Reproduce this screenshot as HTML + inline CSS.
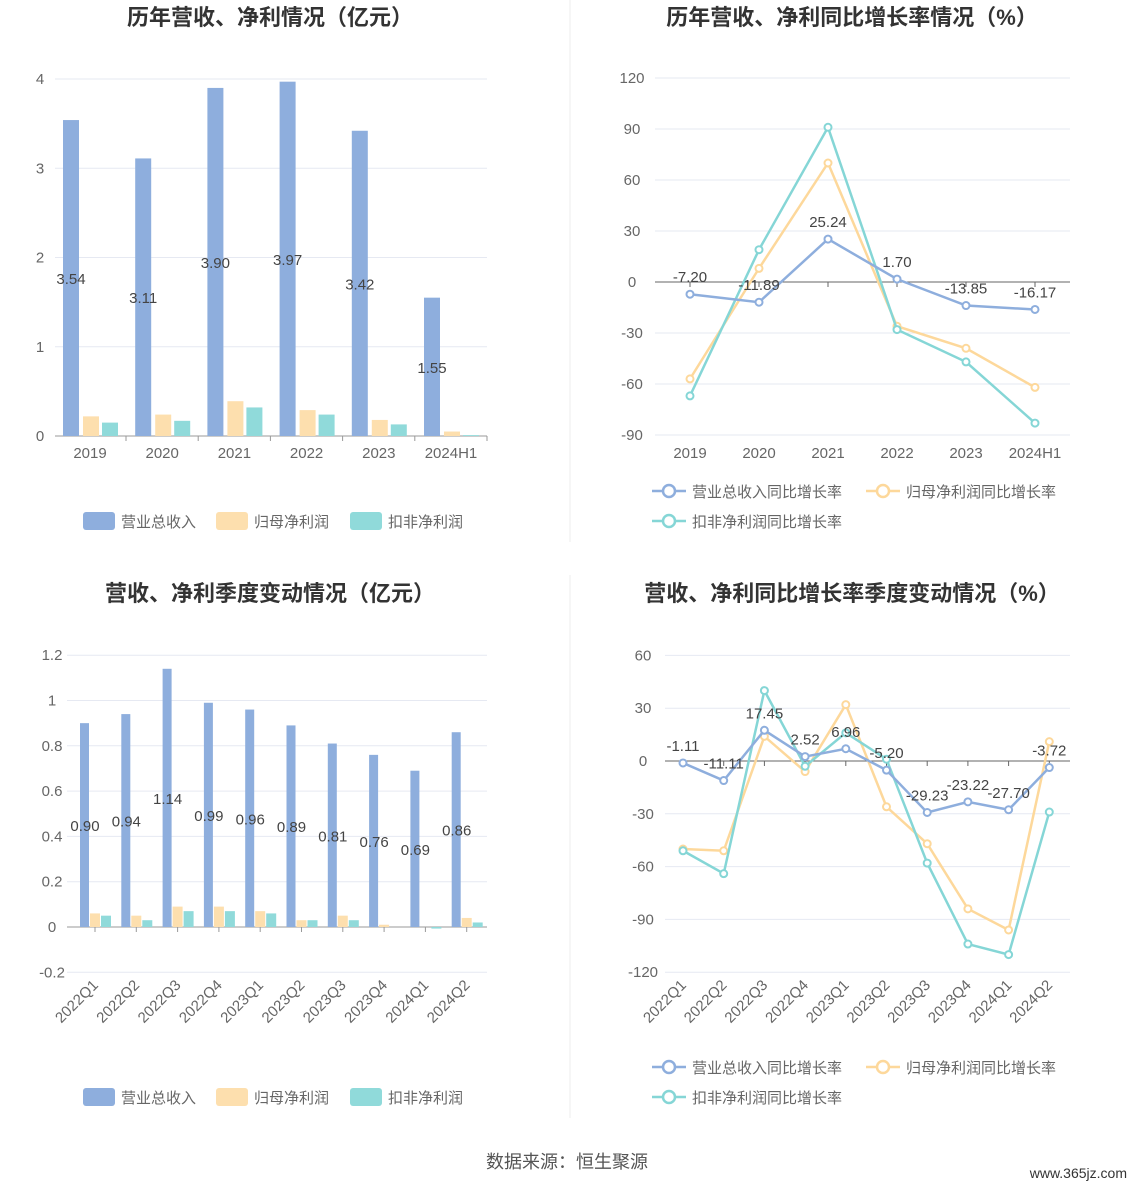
<!DOCTYPE html>
<html><head><meta charset="utf-8"><style>
body{margin:0;background:#fff;}
svg{display:block;font-family:"Liberation Sans","Noto Sans CJK SC",sans-serif;}
</style></head><body>
<svg id="s" width="1134" height="1188" xmlns="http://www.w3.org/2000/svg"></svg>
<script>
const S=document.getElementById('s');let h='';
const B='#8eaedd',O='#fddfae',T='#90dada';
const BL='#8eaedd',OL='#fdd89b',TL='#85d6d6';
function t(x,y,s,o={}){h+=`<text x="${x}" y="${y}" font-size="${o.fs||15}" fill="${o.c||'#666'}" text-anchor="${o.a||'middle'}" ${o.w?'font-weight="bold"':''} ${o.tr?`transform="${o.tr}"`:''}>${s}</text>`;}
function l(x1,y1,x2,y2,c,w=1){h+=`<line x1="${x1}" y1="${y1}" x2="${x2}" y2="${y2}" stroke="${c}" stroke-width="${w}"/>`;}
function r(x,y,w,hh,c){if(hh<0){y+=hh;hh=-hh;}h+=`<rect x="${x}" y="${y}" width="${w}" height="${hh}" fill="${c}"/>`;}
l(570,0,570,542,'#eee');l(570,575,570,1118,'#eee');
t(270,25,'历年营收、净利情况（亿元）',{fs:22,w:1,c:'#333'});
t(852,25,'历年营收、净利同比增长率情况（%）',{fs:22,w:1,c:'#333'});
t(270,601,'营收、净利季度变动情况（亿元）',{fs:22,w:1,c:'#333'});
t(852,601,'营收、净利同比增长率季度变动情况（%）',{fs:22,w:1,c:'#333'});
{let y0=436,k=89.25;for(let i=0;i<=4;i++){let y=y0-i*k;l(55,y,487,y,i?'#e6e9f2':'#999');t(40,y+5,i,{a:'middle'});}
const yrs=['2019','2020','2021','2022','2023','2024H1'],b=[3.54,3.11,3.90,3.97,3.42,1.55],o=[.22,.24,.39,.29,.18,.05],tq=[.15,.17,.32,.24,.13,.01];
yrs.forEach((y,i)=>{let c=90+i*72.2;r(c-27,y0,16,-b[i]*k,B);r(c-7,y0,16,-o[i]*k,O);r(c+12,y0,16,-tq[i]*k,T);
t(c-19,y0-b[i]*k/2+6,b[i].toFixed(2),{c:'#444'});t(c,458,y);l(c+36,436,c+36,441,'#999');});
}
function lb(y){[[83,B,'营业总收入'],[216,O,'归母净利润'],[350,T,'扣非净利润']].forEach(([x,c,s])=>{h+=`<rect x="${x}" y="${y-9}" width="32" height="18" rx="3" fill="${c}"/>`;t(x+38,y+6,s,{a:'start'});});}
lb(521);lb(1097);
function lines(x0,dx,y0,k,sets,labels){sets.forEach(([d,c])=>{let p=d.map((v,i)=>`${x0+i*dx},${y0-v*k}`).join(' ');h+=`<polyline points="${p}" fill="none" stroke="${c}" stroke-width="2.5"/>`;d.forEach((v,i)=>h+=`<circle cx="${x0+i*dx}" cy="${y0-v*k}" r="3.5" fill="#fff" stroke="${c}" stroke-width="2"/>`);});
labels&&labels.forEach((v,i)=>t(x0+i*dx,y0-v*k-12,v.toFixed(2),{c:'#444'}));}
{let y0=282,k=51/30;for(let v=-90;v<=120;v+=30){let y=y0-v*k;l(655,y,1070,y,v?'#e6e9f2':'#666');t(632,y+5,v);}
const yrs=['2019','2020','2021','2022','2023','2024H1'];yrs.forEach((s,i)=>{let x=690+i*69;t(x,458,s);l(x,282,x,287,'#666');});
lines(690,69,y0,k,[[[-57,8,70,-26,-39,-62],OL],[[-67,19,91,-28,-47,-83],TL],[[-7.2,-11.89,25.24,1.70,-13.85,-16.17],BL]],[-7.2,-11.89,25.24,1.70,-13.85,-16.17]);}
function ll(y){[[652,BL,'营业总收入同比增长率',491],[866,OL,'归母净利润同比增长率',491],[652,TL,'扣非净利润同比增长率',521]].forEach(([x,c,s,yy])=>{yy=yy-491+y;l(x,yy,x+34,yy,c,2.5);h+=`<circle cx="${x+17}" cy="${yy}" r="6" fill="#fff" stroke="${c}" stroke-width="2.5"/>`;t(x+40,yy+6,s,{a:'start'});});}
ll(491);ll(1067);
{let y0=927,k=45.3/0.2;['-0.2','0','0.2','0.4','0.6','0.8','1','1.2'].forEach((s,i)=>{let y=y0-(i-1)*45.3;l(67,y,487,y,s=='0'?'#999':'#e6e9f2');t(52,y+5,s);});
const q=['2022Q1','2022Q2','2022Q3','2022Q4','2023Q1','2023Q2','2023Q3','2023Q4','2024Q1','2024Q2'],b=[.90,.94,1.14,.99,.96,.89,.81,.76,.69,.86],o=[.06,.05,.09,.09,.07,.03,.05,.01,0,.04],tq=[.05,.03,.07,.07,.06,.03,.03,0,-.007,.02];
q.forEach((s,i)=>{let c=95+i*41.3;r(c-15,y0,9,-b[i]*k,B);r(c-5,y0,10,-o[i]*k,O);r(c+6,y0,10,-tq[i]*k,T);l(c,927,c,932,'#999');
t(c-10,y0-b[i]*k/2+6,b[i].toFixed(2),{c:'#444'});t(c+4,986,s,{a:'end',tr:`rotate(-45 ${c+4} 986)`});});}
{let y0=761,k=52.8/30;for(let v=-120;v<=60;v+=30){let y=y0-v*k;l(665,y,1070,y,v?'#e6e9f2':'#666');t(643,y+5,v);}
const q=['2022Q1','2022Q2','2022Q3','2022Q4','2023Q1','2023Q2','2023Q3','2023Q4','2024Q1','2024Q2'];
q.forEach((s,i)=>{let x=683+i*40.7;t(x+4,986,s,{a:'end',tr:`rotate(-45 ${x+4} 986)`});l(x,761,x,766,'#666');});
const bv=[-1.11,-11.11,17.45,2.52,6.96,-5.20,-29.23,-23.22,-27.70,-3.72];
lines(683,40.7,y0,k,[[[-50,-51,14,-6,32,-26,-47,-84,-96,11],OL],[[-51,-64,40,-3,16,1,-58,-104,-110,-29],TL],[bv,BL]],bv);}
t(567,1168,'数据来源：恒生聚源',{fs:18,c:'#555'});
t(1127,1178,'www.365jz.com',{fs:14,c:'#333',a:'end'});
S.innerHTML=h;
</script>
</body></html>
